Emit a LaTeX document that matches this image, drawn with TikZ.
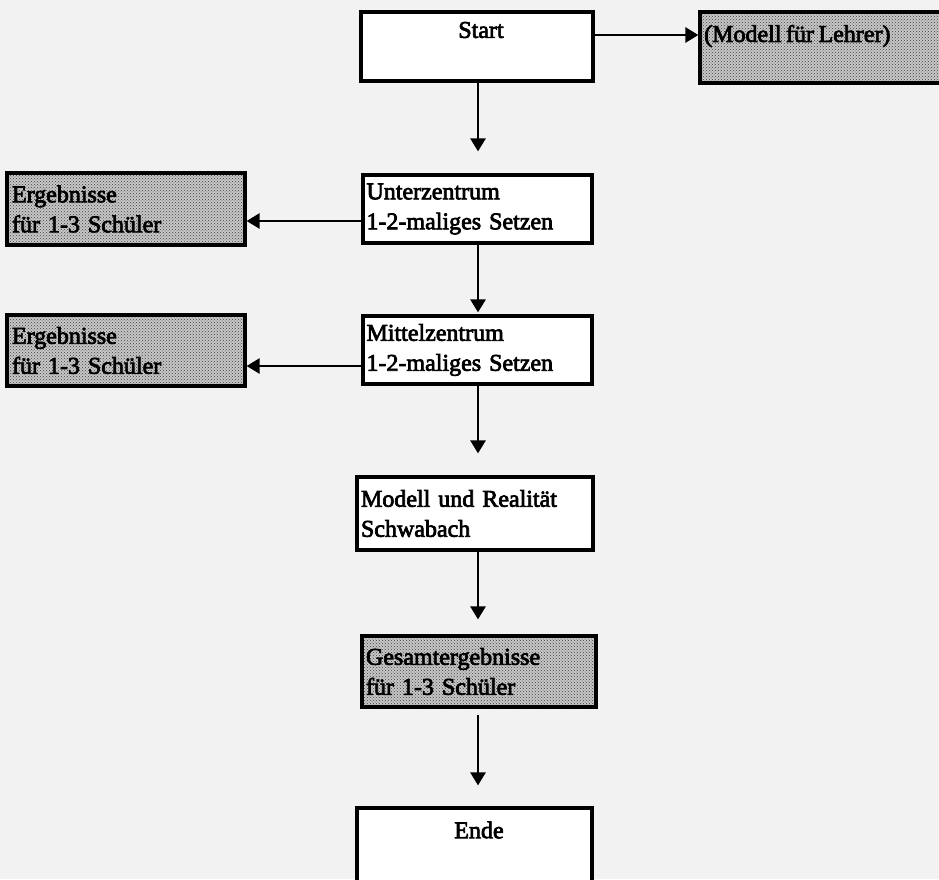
\documentclass[tikz,border=0pt]{standalone}
\usepackage{fontspec}
\newfontfamily\scanfont{Liberation Serif}[FakeBold=3, WordSpace=0.75]
\usetikzlibrary{arrows.meta,patterns}
\begin{document}
\begin{tikzpicture}[x=1pt,y=-1pt,
  box/.style={draw=black, line width=3.2pt, rectangle, inner sep=0pt, fill=white,
    font=\scanfont\fontsize{24}{30}\selectfont, align=left},
  shaded/.style={box, pattern=crosshatch dots, pattern color=black!75, preaction={fill=black!22}},
  lab/.style={font=\scanfont\fontsize{24}{30}\selectfont, inner sep=0pt},
  arr/.style={line width=2.6pt, -{Triangle[length=13pt,width=15pt]}}]
\clip (0,0) rectangle (939,879);
\useasboundingbox (0,0) rectangle (939,879);
\fill[black!5] (0,0) rectangle (939,879);
% boxes
\node[box, minimum width=232pt, minimum height=69pt] (start) at (477,46.5) {};
\node[lab] (startlab) at (481,30) {Start};
\node[shaded, minimum width=260pt, minimum height=71pt] (lehrer) at (830,47.5) {};
\node[lab, anchor=west] (lehrerlab) at (704,36) {(Modell für Lehrer)};
\node[box, minimum width=229pt, minimum height=68pt, text width=222pt] (unter) at (477.5,209) {Unterzentrum\\1-2-maliges Setzen};
\node[shaded, minimum width=238pt, minimum height=72pt, text width=228pt] (erg1) at (126,209) {Ergebnisse\\für 1-3 Schüler};
\node[box, minimum width=229pt, minimum height=68pt, text width=222pt] (mittel) at (477.5,350) {Mittelzentrum\\1-2-maliges Setzen};
\node[shaded, minimum width=238pt, minimum height=71pt, text width=228pt] (erg2) at (126,350.5) {Ergebnisse\\für 1-3 Schüler};
\node[box, minimum width=236pt, minimum height=73pt, text width=228pt] (real) at (475,513.5) {Modell und Realität\\Schwabach};
\node[shaded, minimum width=234pt, minimum height=71pt, text width=226pt] (gesamt) at (479,671.5) {Gesamtergebnisse\\für 1-3 Schüler};
\node[box, minimum width=235pt, minimum height=92pt] (ende) at (474.5,854) {};
\node[lab] (endelab) at (479,830) {Ende};
% connectors
\coordinate (vx) at (478,0);
\coordinate (ya) at (0,35);
\coordinate (yb) at (0,221);
\coordinate (yc) at (0,366);
\draw[arr] (start.east |- ya) -- (lehrer.west |- ya);
\draw[arr] (unter.west |- yb) -- (erg1.east |- yb);
\draw[arr] (mittel.west |- yc) -- (erg2.east |- yc);
\draw[arr, shorten >=22pt] (vx |- start.south) -- (vx |- unter.north);
\draw[arr, shorten >=2pt] (vx |- unter.south) -- (vx |- mittel.north);
\draw[arr, shorten >=22pt] (vx |- mittel.south) -- (vx |- real.north);
\draw[arr, shorten >=15pt] (vx |- real.south) -- (vx |- gesamt.north);
\draw[arr, shorten <=6pt, shorten >=21pt] (vx |- gesamt.south) -- (vx |- ende.north);
\end{tikzpicture}
\end{document}
